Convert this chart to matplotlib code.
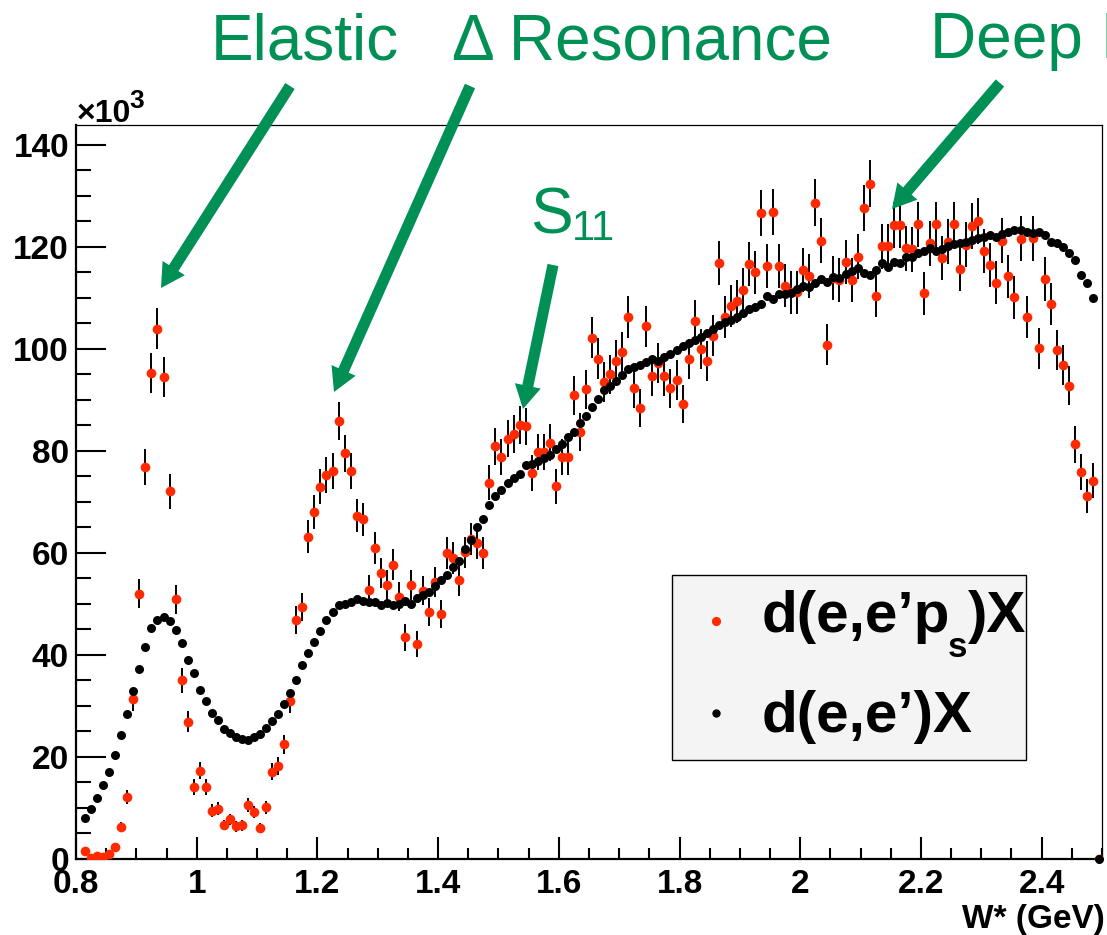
import numpy as np
import matplotlib
matplotlib.use("Agg")
import matplotlib.pyplot as plt
from matplotlib.patches import FancyArrowPatch, Rectangle
from matplotlib.lines import Line2D
from matplotlib.transforms import IdentityTransform
from matplotlib.ticker import MultipleLocator

plt.rcParams["font.family"] = ["Liberation Sans", "DejaVu Sans"]
plt.rcParams["font.weight"] = "bold"

# W* histogram binning (GeV): 10 MeV bins from 0.81 GeV
W_START = 0.81
W_BIN = 0.01

# d(e,e'p_s)X yield per W* bin (x 10^3)
tagged = [
    1.6, 0.2, 0.6, 0.3, 1.0, 2.3, 6.2, 12.2, 31.3, 52.0,
    76.9, 95.2, 104.0, 94.5, 72.1, 50.9, 35.0, 26.9, 14.1, 17.3,
    14.1, 9.5, 9.9, 6.7, 7.8, 6.4, 6.6, 10.6, 9.2, 6.0,
    10.1, 17.1, 18.2, 22.5, 30.9, 46.9, 49.4, 63.2, 68.0, 73.0,
    75.3, 76.1, 85.8, 79.5, 76.1, 67.3, 66.6, 52.7, 61.0, 56.1,
    53.7, 57.7, 51.4, 43.5, 53.7, 42.1, 52.6, 48.4, 54.3, 48.0,
    60.0, 59.0, 54.6, 60.1, 62.7, 62.0, 60.0, 73.8, 80.9, 78.8,
    82.4, 83.3, 85.1, 84.8, 75.7, 79.8, 79.8, 81.6, 73.1, 78.8,
    78.8, 90.9, 83.7, 92.1, 102.2, 98.1, 93.5, 95.0, 97.7, 99.3,
    106.3, 92.3, 88.4, 104.4, 94.7, 97.2, 94.7, 92.3, 93.9, 89.2,
    98.0, 105.5, 100.0, 97.6, 102.6, 116.9, 106.3, 108.4, 109.3, 111.6,
    116.7, 115.0, 126.7, 116.3, 126.9, 116.3, 112.4, 111.1, 111.1, 115.5,
    114.3, 128.7, 121.2, 100.8, 113.9, 113.5, 117.1, 113.5, 118.1, 127.6,
    132.4, 110.4, 120.1, 120.1, 124.3, 124.3, 119.7, 119.5, 124.4, 110.9,
    120.7, 124.4, 117.8, 121.0, 124.4, 115.6, 120.4, 124.1, 125.1, 119.2,
    116.5, 113.0, 121.2, 114.2, 110.1, 121.6, 106.3, 121.7, 100.1, 113.7,
    108.8, 99.8, 96.9, 92.8, 81.3, 75.9, 71.2, 74.2, 0.0,
]

# d(e,e')X yield per W* bin (x 10^3)
inclusive = [
    8.1, 9.9, 12.0, 14.6, 17.0, 20.4, 24.3, 28.5, 32.9, 37.3,
    41.6, 45.2, 46.9, 47.5, 46.7, 44.9, 42.3, 39.1, 36.4, 33.1,
    31.0, 28.7, 27.2, 25.5, 24.7, 24.0, 23.6, 23.4, 23.9, 24.5,
    25.6, 27.0, 28.4, 30.4, 32.6, 35.1, 38.0, 40.4, 42.6, 44.7,
    46.8, 48.5, 49.7, 50.0, 50.3, 51.0, 50.6, 50.4, 50.3, 49.8,
    50.1, 49.8, 49.9, 50.5, 50.0, 51.1, 51.8, 52.4, 53.5, 54.6,
    55.7, 57.2, 58.4, 60.8, 62.5, 65.0, 66.7, 69.4, 71.2, 72.3,
    73.7, 74.6, 75.5, 77.2, 77.4, 78.1, 78.6, 79.2, 80.3, 81.4,
    82.8, 83.8, 85.4, 86.9, 88.7, 90.2, 91.9, 92.7, 93.7, 94.9,
    96.0, 96.4, 96.9, 97.4, 98.1, 97.7, 98.4, 99.1, 99.8, 100.6,
    101.1, 101.8, 102.4, 103.2, 103.9, 104.6, 105.2, 105.6, 106.2, 107.0,
    107.8, 108.3, 108.8, 110.3, 109.7, 110.8, 110.8, 111.0, 111.7, 112.4,
    112.2, 112.9, 113.7, 113.2, 114.1, 113.9, 114.7, 115.2, 115.9, 114.9,
    114.5, 115.5, 116.9, 116.0, 117.1, 116.9, 118.1, 118.1, 118.8, 119.1,
    119.7, 119.1, 119.5, 120.2, 120.6, 120.8, 121.0, 121.4, 121.7, 121.9,
    122.4, 122.0, 122.5, 123.0, 123.3, 123.3, 123.0, 122.8, 123.0, 122.4,
    121.0, 120.7, 119.9, 118.8, 117.5, 114.5, 112.9, 109.9, 0.0,
]

xticks = [0.8, 1.0, 1.2, 1.4, 1.6, 1.8, 2.0, 2.2, 2.4]
xtick_labels = ["0.8", "1", "1.2", "1.4", "1.6", "1.8", "2", "2.2", "2.4"]
yticks = [0, 20, 40, 60, 80, 100, 120, 140]
ytick_labels = ["0", "20", "40", "60", "80", "100", "120", "140"]

RED = "#ff2a00"
GREEN = "#009056"

W, H = 1107, 935
fig = plt.figure(figsize=(W / 100, H / 100), dpi=100)
ax = fig.add_axes([76 / W, 1 - 859 / H, (1102 - 76) / W, (859 - 125) / H])

w = W_START + W_BIN * (np.arange(len(inclusive)) + 0.5)
tag = np.array(tagged)
inc = np.array(inclusive)
tag_err = 0.4 * np.sqrt(tag)  # statistical uncertainty of the tagged yield

ax.errorbar(w, tag, yerr=tag_err, fmt="none", ecolor="black",
            elinewidth=1.4, capsize=0, zorder=2)
ax.plot(w, tag, "o", color=RED, ms=7.0, mew=0, zorder=3)
ax.plot(w, inc, "o", color="black", ms=6.5, mew=0, zorder=4, clip_on=False)

ax.set_xlim(0.8, 2.5)
ax.set_ylim(0, 143.9)
ax.set_xticks(xticks)
ax.set_xticklabels(xtick_labels)
ax.set_yticks(yticks)
ax.set_yticklabels(ytick_labels)
ax.xaxis.set_minor_locator(MultipleLocator(0.05))
ax.yaxis.set_minor_locator(MultipleLocator(5))
ax.tick_params(axis="both", which="both", direction="in", top=False,
               right=False, width=1.5, labelsize=24)
ax.tick_params(axis="x", which="major", length=15.8, pad=7)
ax.tick_params(axis="x", which="minor", length=7.9)
ax.tick_params(axis="y", which="major", length=21.6, pad=5)
ax.tick_params(axis="y", which="minor", length=10.8)
for side, lw in (("left", 1.6), ("bottom", 1.6), ("top", 0.9), ("right", 0.9)):
    ax.spines[side].set_linewidth(lw)


def fx(x):
    return x / W


def fy(y):
    return 1 - y / H


# exponent of the y axis
fig.text(fx(77), fy(122), "\u00d710", fontsize=23, fontweight="bold",
         ha="left", va="baseline")
fig.text(fx(129), fy(108), "3", fontsize=19, fontweight="bold",
         ha="left", va="baseline")

# x axis title
fig.text(fx(1105), fy(928), "W* (GeV)", fontsize=24, fontweight="bold",
         ha="right", va="baseline")

# region labels
for label, x, y in (("Elastic", 211, 59), ("\u0394 Resonance", 452, 59),
                    ("Deep Inelastic", 930, 58)):
    fig.text(fx(x), fy(y), label, color=GREEN, fontsize=46,
             fontweight="normal", ha="left", va="baseline")
fig.text(fx(530), fy(234), "S", color=GREEN, fontsize=46,
         fontweight="normal", ha="left", va="baseline")
fig.text(fx(572), fy(240), "11", color=GREEN, fontsize=30,
         fontweight="normal", ha="left", va="baseline")


def arrow(tail, tip):
    patch = FancyArrowPatch((tail[0], H - tail[1]), (tip[0], H - tip[1]),
                            transform=IdentityTransform(),
                            arrowstyle="simple,head_length=17,head_width=19,tail_width=8",
                            mutation_scale=1, color=GREEN, lw=0,
                            shrinkA=0, shrinkB=0, zorder=5)
    fig.add_artist(patch)


arrow((290, 86), (161, 288))
arrow((470, 86), (334, 392))
arrow((553, 265), (523, 409))
arrow((1000, 83), (892, 209))

# legend
fig.add_artist(Rectangle((672, H - 760), 354, 185, transform=IdentityTransform(),
                         facecolor="#f4f4f4", edgecolor="black", lw=1.0, zorder=6))
fig.add_artist(Line2D([716], [H - 621], transform=IdentityTransform(), marker="o",
                      color=RED, ms=6.6, mew=0, ls="none", zorder=7))
fig.add_artist(Line2D([716], [H - 713], transform=IdentityTransform(), marker="o",
                      color="black", ms=6.0, mew=0, ls="none", zorder=7))
fig.text(fx(762), fy(632), "d(e,e\u2019p", fontsize=42, fontweight="bold",
         ha="left", va="baseline", zorder=8)
fig.text(fx(948), fy(657), "s", fontsize=25, fontweight="bold",
         ha="left", va="baseline", zorder=8)
fig.text(fx(968), fy(632), ")X", fontsize=42, fontweight="bold",
         ha="left", va="baseline", zorder=8)
fig.text(fx(762), fy(732), "d(e,e\u2019)X", fontsize=42, fontweight="bold",
         ha="left", va="baseline", zorder=8)

fig.savefig("out.png", dpi=100)
